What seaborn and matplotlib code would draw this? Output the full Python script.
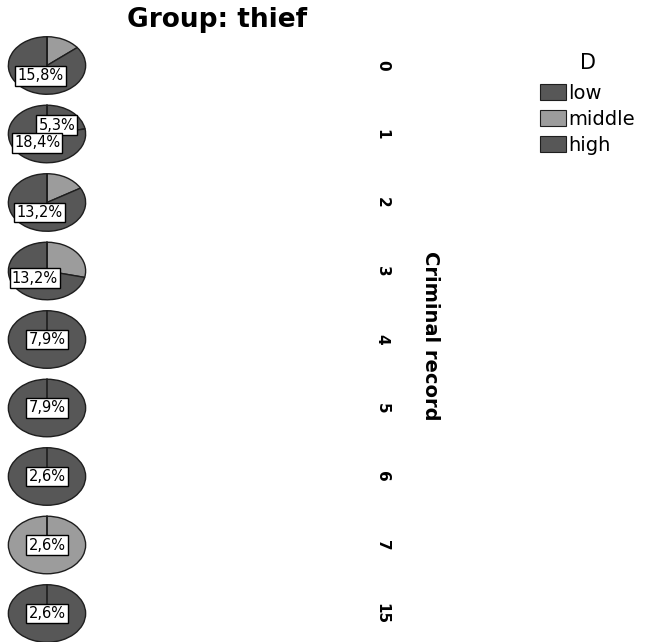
import matplotlib
matplotlib.use("Agg")
import matplotlib.pyplot as plt
from matplotlib.patches import Patch
import seaborn as sns
import numpy as np

# data (counts of thieves, 38 in total)
records = ["0", "1", "2", "3", "4", "5", "6", "7", "15"]
levels = ["low", "middle", "high"]
low = [0, 2, 0, 0, 0, 0, 0, 0, 0]
middle = [1, 0, 1, 2, 0, 0, 0, 1, 0]
high = [6, 7, 5, 5, 3, 3, 1, 0, 1]
# which slices carry a percentage label in the original
labelled = [["high"], ["low", "high"], ["high"], ["high"], ["high"],
            ["high"], ["high"], ["middle"], ["high"]]

sns.set_theme(style="white")
plt.rcParams["font.family"] = ["DejaVu Sans"]
plt.rcParams["text.color"] = "black"
plt.rcParams["axes.labelcolor"] = "black"
plt.rcParams["ytick.color"] = "black"
colors = sns.color_palette(["#575757", "#9c9c9c", "#575757"])

total = sum(low) + sum(middle) + sum(high)

fig = plt.figure(figsize=(6.49, 6.42), dpi=100)
W, H = 649, 642
# axes in pixel box: left 0, right 372, top 30, bottom 642
ax = fig.add_axes([0, 0, 372 / W, (642 - 30) / H])

px_x, px_y = 92.0, 68.5  # pixels per data unit
cx = 47 / px_x
r = 0.42

for i, rec in enumerate(records):
    vals = [low[i], middle[i], high[i]]
    wedges, _ = ax.pie(vals, colors=colors, startangle=90, counterclock=False,
                       radius=r, center=(cx, -i), frame=True,
                       wedgeprops=dict(edgecolor="#1e1e1e", linewidth=1.0))
    # SPSS draws the start line at 12 o'clock even on full pies
    ax.plot([cx, cx], [-i, -i + r], color="#1e1e1e", lw=1.2)
    n_nonzero = sum(v > 0 for v in vals)
    for lev, w, v in zip(levels, wedges, vals):
        if lev not in labelled[i] or v == 0:
            continue
        d = 0.0 if n_nonzero == 1 else 0.4
        ang = np.deg2rad((w.theta1 + w.theta2) / 2)
        tx = cx + d * r * np.cos(ang)
        ty = -i + d * r * np.sin(ang)
        pct = f"{100 * v / total:.1f}%".replace(".", ",")
        ax.text(tx, ty, pct, ha="center", va="center", fontsize=10.5,
                bbox=dict(boxstyle="square,pad=0.15", fc="white", ec="black", lw=1))

ax.set_aspect("auto")
ax.set_xlim(0, 372 / px_x)
ax.set_ylim(-8 - (642 - 613.5) / px_y, (65.5 - 30) / px_y)
ax.set_xticks([])
ax.yaxis.tick_right()
ax.set_yticks(-np.arange(len(records)))
ax.set_yticklabels(records, rotation=270, fontweight="bold", fontsize=11,
                   va="center")
ax.tick_params(axis="y", length=0, pad=2)
ax.yaxis.set_label_position("right")
ax.set_ylabel("Criminal record", rotation=270, fontsize=14, fontweight="bold",
              labelpad=36)
for s in ax.spines.values():
    s.set_visible(False)

fig.text(217 / W, 1 - 20 / H, "Group: thief", ha="center", va="center",
         fontsize=19, fontweight="bold")

handles = [Patch(facecolor=c, edgecolor="#1e1e1e", lw=0.8) for c in colors]
leg = fig.legend(handles, levels, title="D", loc="upper left",
                 bbox_to_anchor=(540 / W, 1 - 53 / H), frameon=False, fontsize=14,
                 title_fontsize=15, handlelength=1.35, handleheight=0.9,
                 handletextpad=0.12, labelspacing=0.35, borderpad=0,
                 borderaxespad=0)
leg._legend_box.sep = 8

fig.savefig("out.png", dpi=100)
